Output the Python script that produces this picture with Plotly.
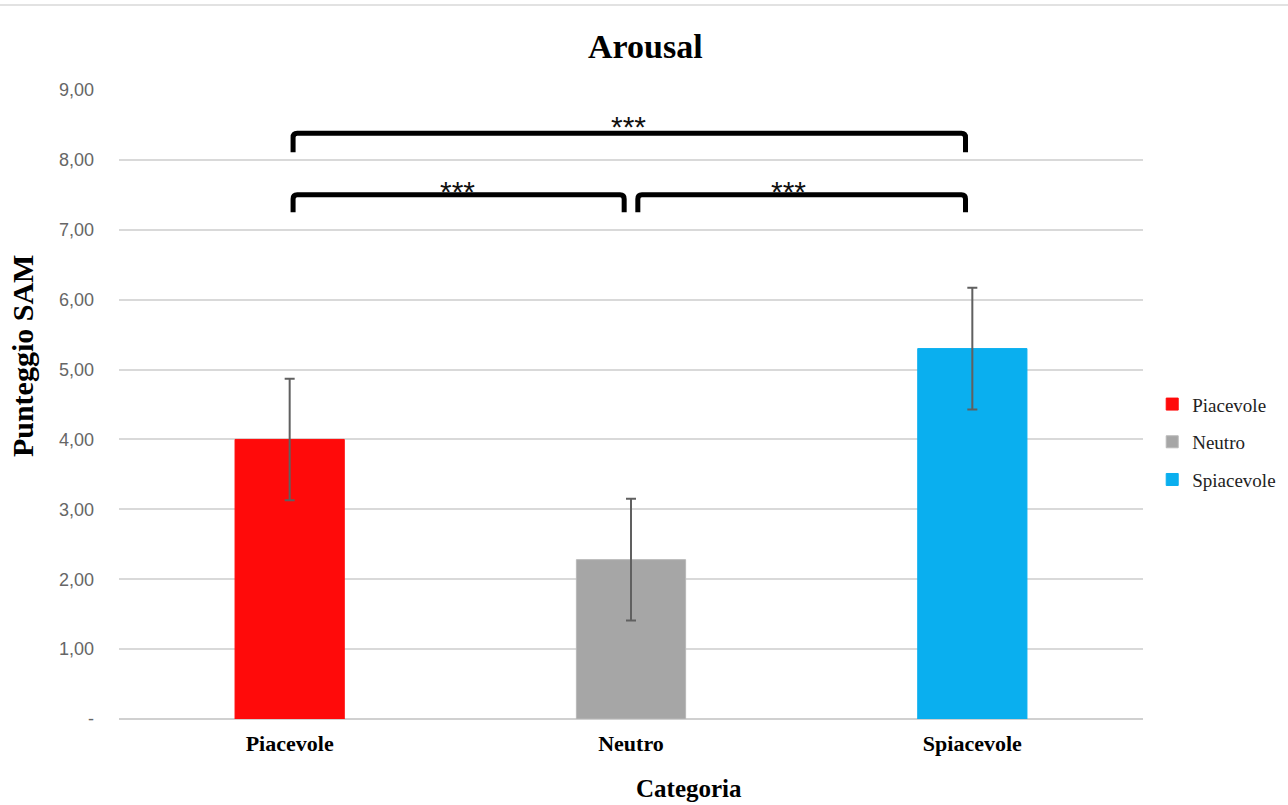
import plotly.graph_objects as go

# Mean SAM arousal scores per category, with their error margins
categories = ["Piacevole", "Neutro", "Spiacevole"]
means = [4.00, 2.28, 5.30]
errors = [0.87, 0.87, 0.87]
colors = ["#FF0A0A", "#A6A6A6", "#0AAFEF"]
edge_colors = ["#FF0A0A", "#B8B8B8", "#0AAFEF"]

y_ticks = [0, 1, 2, 3, 4, 5, 6, 7, 8, 9]
y_ticktext = ["-", "1,00", "2,00", "3,00", "4,00", "5,00", "6,00", "7,00", "8,00", "9,00"]

# Significance brackets: left x, right x, bar height, tip height
bracket_x0 = [0.01, 0.01, 1.02]
bracket_x1 = [1.98, 0.98, 1.98]
bracket_top = [8.38, 7.50, 7.50]
bracket_tip = [8.11, 7.25, 7.25]
bracket_labels = ["***", "***", "***"]
label_x = [0.994, 0.493, 1.46]
label_shift = [7, 3, 3]  # px above the bracket line

fig = go.Figure()
for i, (cat, m, e, c, ec) in enumerate(zip(categories, means, errors, colors, edge_colors)):
    fig.add_trace(go.Bar(
        x=[i], y=[m], name=cat, width=0.32,
        marker=dict(color=c, line=dict(color=ec, width=1)),
        error_y=dict(type="data", array=[e], visible=True,
                     color="#606060", thickness=2, width=5),
        legendgroup=cat,
    ))

shapes = []
annotations = []
rx, ry = 0.012, 0.06
for x0, x1, yt, yb, label, lx, ls in zip(bracket_x0, bracket_x1, bracket_top,
                                          bracket_tip, bracket_labels, label_x, label_shift):
    path = (f"M {x0},{yb} L {x0},{yt - ry} Q {x0},{yt} {x0 + rx},{yt} "
            f"L {x1 - rx},{yt} Q {x1},{yt} {x1},{yt - ry} L {x1},{yb}")
    shapes.append(dict(type="path", path=path, xref="x", yref="y",
                       line=dict(color="black", width=5), layer="above"))
    annotations.append(dict(x=lx, y=yt, xref="x", yref="y",
                            text=label, showarrow=False, yanchor="middle",
                            yshift=ls,
                            font=dict(family="Liberation Sans", size=30, color="#111111")))

# thin rule along the top edge of the page
shapes.append(dict(type="line", xref="paper", yref="paper",
                   x0=-0.12, x1=1.15, y0=1.135, y1=1.135,
                   line=dict(color="#d9d9d9", width=1.5)))

# chart title and axis titles
annotations.append(dict(text="<b>Arousal</b>", x=0.514, y=1.0 + (90 - 46) / 629,
                        xref="paper", yref="paper", showarrow=False,
                        xanchor="center", yanchor="middle",
                        font=dict(family="Liberation Serif", size=34, color="black")))
annotations.append(dict(text="<b>Punteggio SAM</b>", x=-0.0947, y=0.577,
                        xref="paper", yref="paper", showarrow=False, textangle=-90,
                        xanchor="center", yanchor="middle",
                        font=dict(family="Liberation Serif", size=30, color="black")))
annotations.append(dict(text="<b>Categoria</b>", x=0.557, y=-0.110,
                        xref="paper", yref="paper", showarrow=False,
                        xanchor="center", yanchor="middle",
                        font=dict(family="Liberation Serif", size=25, color="black")))

fig.update_layout(
    width=1288, height=805,
    margin=dict(l=119, r=145, t=90, b=86, autoexpand=False),
    plot_bgcolor="white", paper_bgcolor="white",
    barmode="overlay",
    showlegend=True,
    legend=dict(x=1.009, y=0.44, xanchor="left", yanchor="middle",
                font=dict(family="Liberation Serif", size=19, color="#222222"),
                tracegroupgap=10, itemwidth=30, bgcolor="rgba(0,0,0,0)"),
    shapes=shapes,
    annotations=annotations,
    xaxis=dict(range=[-0.5, 2.5], tickvals=[0, 1, 2],
               ticktext=[f"<b>{c}</b>" for c in categories],
               showgrid=False, zeroline=False, showline=False, ticks="",
               tickfont=dict(family="Liberation Serif", size=22, color="black"),
               ticklabelstandoff=9),
    yaxis=dict(range=[0, 9], tickvals=y_ticks, ticktext=y_ticktext,
               showgrid=True, gridcolor="#d9d9d9", gridwidth=1.5,
               zeroline=True, zerolinecolor="#d0d0d0", zerolinewidth=2,
               showline=False, ticks="",
               tickfont=dict(family="Liberation Sans", size=18, color="#666666"),
               ticklabelstandoff=24),
)

fig.write_html("out.html")
